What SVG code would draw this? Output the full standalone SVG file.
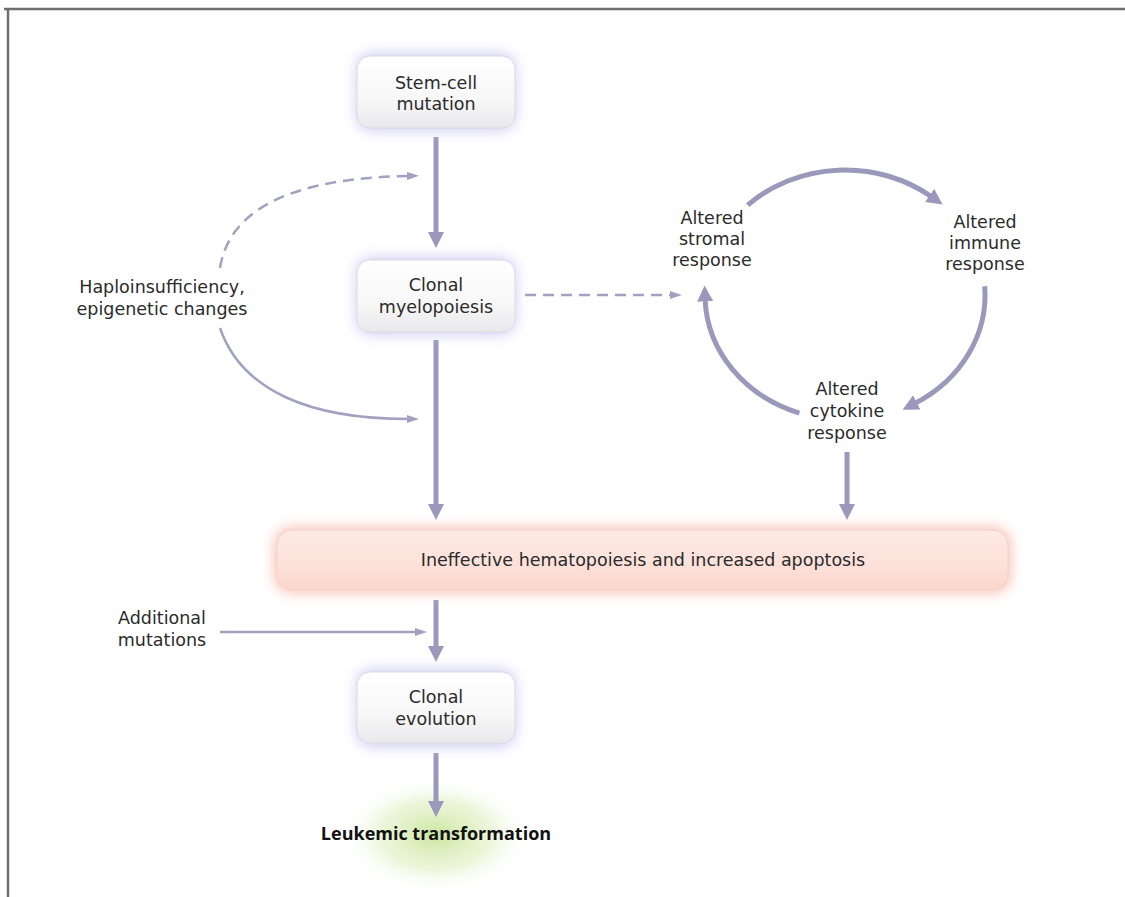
<svg xmlns="http://www.w3.org/2000/svg" width="1125" height="897" viewBox="0 0 1125 897">
<defs>
<style>
.t{font-family:"DejaVu Sans","Open Sans",sans-serif;font-size:17.5px;fill:#2b2b2b;text-anchor:middle}
.b{font-family:"Open Sans","Liberation Sans",sans-serif;font-weight:bold;font-size:18px;fill:#111}
.main{fill:none;stroke:#9b98bc;stroke-width:5}
.thin{fill:none;stroke:#a3a1c0;stroke-width:2.5}
.dash{stroke-dasharray:11 7}
.box{fill:url(#gBox);stroke:#dcdce4;stroke-width:1}
.glow{fill:#cdc8f2;filter:url(#blur)}
</style>
<linearGradient id="gBox" x1="0" y1="0" x2="0" y2="1">
<stop offset="0" stop-color="#ffffff"/>
<stop offset="0.6" stop-color="#f7f7f7"/>
<stop offset="1" stop-color="#e9e9ec"/>
</linearGradient>
<linearGradient id="gPink" x1="0" y1="0" x2="0" y2="1">
<stop offset="0" stop-color="#fde9e4"/>
<stop offset="0.5" stop-color="#fde3dc"/>
<stop offset="1" stop-color="#fbd6cd"/>
</linearGradient>
<radialGradient id="gGreen" cx="0.5" cy="0.5" r="0.5">
<stop offset="0" stop-color="#c9e59a" stop-opacity="0.95"/>
<stop offset="0.6" stop-color="#e0f0c4" stop-opacity="0.6"/>
<stop offset="1" stop-color="#ffffff" stop-opacity="0"/>
</radialGradient>
<filter id="blur" x="-30%" y="-60%" width="160%" height="220%">
<feGaussianBlur stdDeviation="7"/>
</filter>
<marker id="ah" viewBox="0 0 16 16" refX="2" refY="8" markerWidth="16" markerHeight="16" markerUnits="userSpaceOnUse" orient="auto">
<path d="M0,0 L16,8 L0,16 z" fill="#9b98bc"/>
</marker>
<marker id="ahs" viewBox="0 0 12 8" refX="1" refY="4" markerWidth="12" markerHeight="8" markerUnits="userSpaceOnUse" orient="auto">
<path d="M0,0 L12,4 L0,8 z" fill="#a3a1c0"/>
</marker>
</defs>
<rect width="1125" height="897" fill="#ffffff"/>
<g id="frame">
<line x1="4" y1="9" x2="1125" y2="9" stroke="#6e6e6e" stroke-width="2.5"/>
<line x1="8" y1="9" x2="8" y2="897" stroke="#6e6e6e" stroke-width="2.5"/>
</g>
<ellipse id="leukemic-glow" cx="436" cy="835" rx="95" ry="58" fill="url(#gGreen)"/>

<g id="connectors">
<line class="main" x1="436" y1="137" x2="436" y2="234" marker-end="url(#ah)"/>
<line class="main" x1="436" y1="340" x2="436" y2="506" marker-end="url(#ah)"/>
<line class="main" x1="847" y1="452" x2="847" y2="506" marker-end="url(#ah)"/>
<line class="main" x1="436" y1="600" x2="436" y2="648" marker-end="url(#ah)"/>
<line class="main" x1="436" y1="753" x2="436" y2="803" marker-end="url(#ah)"/>
<path class="main" d="M747.7,205.1 A140,125 0 0 1 931.2,196.5" marker-end="url(#ah)"/>
<path class="main" d="M984.7,286.3 A140,125 0 0 1 915,403.3" marker-end="url(#ah)"/>
<path class="main" d="M799.4,413.2 A140,125 0 0 1 705.1,299.4" marker-end="url(#ah)"/>
<path class="thin dash" d="M220,268 C230,205 300,178 408,176" marker-end="url(#ahs)"/>
<path class="thin" d="M220,328 C242,392 312,419 408,419" marker-end="url(#ahs)"/>
<line class="thin dash" x1="525" y1="295" x2="671" y2="295" marker-end="url(#ahs)"/>
<line class="thin" x1="220" y1="632" x2="416" y2="632" marker-end="url(#ahs)"/>
</g>

<g id="stem-cell-mutation">
<rect class="glow" x="357" y="54" width="158" height="76" rx="14"/>
<rect class="box" x="357" y="56" width="158" height="72" rx="13"/>
<text class="t" x="436" y="89">Stem-cell</text>
<text class="t" x="436" y="110">mutation</text>
</g>

<g id="clonal-myelopoiesis">
<rect class="glow" x="357" y="258" width="158" height="76" rx="14"/>
<rect class="box" x="357" y="260" width="158" height="72" rx="13"/>
<text class="t" x="436" y="291">Clonal</text>
<text class="t" x="436" y="313">myelopoiesis</text>
</g>

<g id="haploinsufficiency">
<text class="t" x="162" y="293">Haploinsufficiency,</text>
<text class="t" x="162" y="315">epigenetic changes</text>
</g>

<g id="altered-stromal">
<text class="t" x="712" y="224">Altered</text>
<text class="t" x="712" y="245">stromal</text>
<text class="t" x="712" y="266">response</text>
</g>

<g id="altered-immune">
<text class="t" x="985" y="228">Altered</text>
<text class="t" x="985" y="249">immune</text>
<text class="t" x="985" y="270">response</text>
</g>

<g id="altered-cytokine">
<text class="t" x="847" y="395">Altered</text>
<text class="t" x="847" y="417">cytokine</text>
<text class="t" x="847" y="439">response</text>
</g>

<g id="ineffective-hematopoiesis">
<rect x="275" y="528" width="735" height="64" rx="16" fill="#f8b9b0" filter="url(#blur)"/>
<rect x="277" y="530" width="731" height="60" rx="15" fill="url(#gPink)" stroke="#f3d2ca" stroke-width="1"/>
<text class="t" x="643" y="566">Ineffective hematopoiesis and increased apoptosis</text>
</g>

<g id="additional-mutations">
<text class="t" x="162" y="624">Additional</text>
<text class="t" x="162" y="646">mutations</text>
</g>

<g id="clonal-evolution">
<rect class="glow" x="357" y="670" width="158" height="76" rx="14"/>
<rect class="box" x="357" y="672" width="158" height="71" rx="13"/>
<text class="t" x="436" y="703">Clonal</text>
<text class="t" x="436" y="725">evolution</text>
</g>

<g id="leukemic-transformation">
<text class="t b" x="436" y="840">Leukemic transformation</text>
</g>
</svg>
